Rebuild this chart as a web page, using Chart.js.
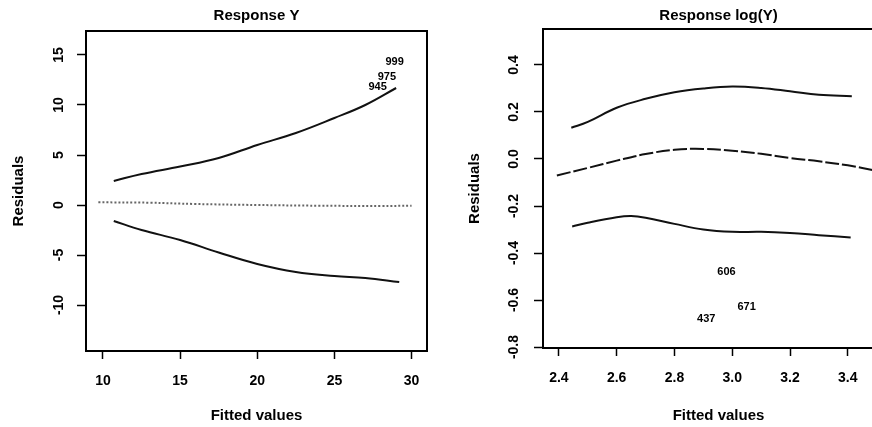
<!DOCTYPE html>
<html>
<head>
<meta charset="utf-8">
<title>Residuals vs fitted values</title>
<script src="https://cdn.jsdelivr.net/npm/chart.js@4.4.1/dist/chart.umd.min.js"></script>
<style>
  html, body { margin: 0; padding: 0; background: #fff; overflow: hidden; }
  #wrap { position: relative; width: 872px; height: 427px; overflow: hidden; }
  #leftChart { position: absolute; left: 0; top: 0; }
  #rightChart { position: absolute; left: 436px; top: 0; }
</style>
</head>
<body>
<div id="wrap">
  <canvas id="leftChart" width="436" height="427"></canvas>
  <canvas id="rightChart" width="470" height="427"></canvas>
</div>
<script>
// left panel: Response Y
const leftUpperX = [10.7, 12.5, 15, 17.5, 20, 22.5, 25, 27, 29]
const leftUpperY = [2.4, 3.1, 3.85, 4.7, 6.0, 7.2, 8.7, 10.0, 11.7]
const leftLowerX = [10.7, 12.5, 15, 17.5, 20, 22.5, 25, 27, 29.2]
const leftLowerY = [-1.6, -2.5, -3.5, -4.75, -5.9, -6.7, -7.1, -7.3, -7.7]
const leftMidX = [9.7, 13, 16, 20, 24, 28, 30]
const leftMidY = [0.27, 0.23, 0.1, 0, -0.07, -0.1, -0.07]
const leftNames = ["999", "975", "945"]
const leftNameX = [28.9, 28.4, 27.8]
const leftNameY = [14.3, 12.8, 11.8]
const leftXTicks = [10, 15, 20, 25, 30]
const leftYTicks = [-10, -5, 0, 5, 10, 15]

// right panel: Response log(Y)
const rightUpperX = [2.443, 2.5, 2.6, 2.7, 2.8, 2.9, 3.0, 3.1, 3.2, 3.3, 3.414]
const rightUpperY = [0.133, 0.158, 0.218, 0.256, 0.284, 0.300, 0.308, 0.302, 0.288, 0.273, 0.267]
const rightMidX = [2.393, 2.5, 2.6, 2.7, 2.8, 2.9, 3.0, 3.1, 3.2, 3.3, 3.4, 3.5]
const rightMidY = [-0.07, -0.038, -0.007, 0.021, 0.039, 0.043, 0.035, 0.022, 0.004, -0.01, -0.027, -0.05]
const rightLowerX = [2.446, 2.5, 2.6, 2.65, 2.7, 2.8, 2.9, 3.0, 3.1, 3.2, 3.3, 3.41]
const rightLowerY = [-0.287, -0.271, -0.248, -0.243, -0.25, -0.276, -0.30, -0.31, -0.31, -0.315, -0.324, -0.334]
const rightNames = ["606", "671", "437"]
const rightNameX = [2.98, 3.05, 2.91]
const rightNameY = [-0.48, -0.63, -0.68]
const rightXTicks = [2.4, 2.6, 2.8, 3.0, 3.2, 3.4]
const rightYTicks = [-0.8, -0.6, -0.4, -0.2, 0.0, 0.2, 0.4]

Chart.defaults.font.family = "'Liberation Sans', Arial, sans-serif"
Chart.defaults.color = "#000"

const pts = (xs, ys) => xs.map((x, i) => ({ x: x, y: ys[i] }))

const framePlugin = {
  id: "frame",
  afterDatasetsDraw(chart) {
    const { ctx, chartArea } = chart
    ctx.save()
    ctx.strokeStyle = "#000"
    ctx.lineWidth = 2
    ctx.strokeRect(chartArea.left, chartArea.top, chartArea.right - chartArea.left, chartArea.bottom - chartArea.top)
    ctx.restore()
  },
}

const namesPlugin = {
  id: "pointNames",
  afterDatasetsDraw(chart, args, opts) {
    const { ctx } = chart
    ctx.save()
    ctx.fillStyle = "#000"
    ctx.font = "bold 11px 'Liberation Sans', Arial, sans-serif"
    ctx.textAlign = "center"
    ctx.textBaseline = "middle"
    opts.names.forEach((n, i) => {
      ctx.fillText(n, chart.scales.x.getPixelForValue(opts.xs[i]), chart.scales.y.getPixelForValue(opts.ys[i]))
    })
    ctx.restore()
  },
}

function lineSet(data, dash, color) {
  return {
    data: data,
    showLine: true,
    borderColor: color || "#111",
    borderWidth: 2,
    borderDash: dash || [],
    pointRadius: 0,
    tension: 0.4,
  }
}

function makeConfig(p) {
  return {
    type: "scatter",
    data: { datasets: p.datasets },
    plugins: [framePlugin, namesPlugin],
    options: {
      responsive: false,
      animation: false,
      layout: { padding: { right: p.padRight } },
      plugins: {
        legend: { display: false },
        tooltip: { enabled: false },
        title: {
          display: true,
          text: p.title,
          fullSize: false,
          font: { size: 15, weight: "bold" },
          color: "#000",
          padding: { top: 7, bottom: p.titleBottom },
        },
        pointNames: { names: p.names, xs: p.nameX, ys: p.nameY },
      },
      scales: {
        x: {
          type: "linear",
          min: p.xMin,
          max: p.xMax,
          afterBuildTicks: (axis) => { axis.ticks = p.xTicks.map((v) => ({ value: v })) },
          afterFit: (axis) => { axis.height = p.xHeight },
          grid: { drawOnChartArea: false, tickLength: 8, tickColor: "#000", tickWidth: 1.5 },
          border: { display: false },
          ticks: { font: { size: 14, weight: "bold" }, padding: 14, maxRotation: 0, callback: p.fmt },
          title: { display: true, text: "Fitted values", font: { size: 15, weight: "bold" }, padding: { bottom: 2 } },
        },
        y: {
          type: "linear",
          min: p.yMin,
          max: p.yMax,
          afterBuildTicks: (axis) => { axis.ticks = p.yTicks.map((v) => ({ value: v })) },
          afterFit: (axis) => { axis.width = p.yWidth },
          grid: { drawOnChartArea: false, tickLength: 9, tickColor: "#000", tickWidth: 1.5 },
          border: { display: false },
          ticks: { font: { size: 14, weight: "bold" }, padding: 8, minRotation: 90, maxRotation: 90, crossAlign: "center", callback: p.fmt },
          title: { display: true, text: "Residuals", font: { size: 15, weight: "bold" }, padding: { top: p.yTitlePad } },
        },
      },
    },
  }
}

const leftChart = new Chart(document.getElementById("leftChart"), makeConfig({
  title: "Response Y",
  datasets: [
    lineSet(pts(leftUpperX, leftUpperY)),
    lineSet(pts(leftLowerX, leftLowerY)),
    lineSet(pts(leftMidX, leftMidY), [2, 2], "rgba(0,0,0,0.6)"),
  ],
  names: leftNames, nameX: leftNameX, nameY: leftNameY,
  xMin: 8.9, xMax: 31.0, yMin: -14.6, yMax: 17.4,
  xTicks: leftXTicks, yTicks: leftYTicks,
  fmt: (v) => String(v),
  padRight: 9, titleBottom: 6, xHeight: 76, yWidth: 86, yTitlePad: 10,
}))

const rightChart = new Chart(document.getElementById("rightChart"), makeConfig({
  title: "Response log(Y)",
  datasets: [
    lineSet(pts(rightUpperX, rightUpperY)),
    lineSet(pts(rightMidX, rightMidY), [14, 3]),
    lineSet(pts(rightLowerX, rightLowerY)),
  ],
  names: rightNames, nameX: rightNameX, nameY: rightNameY,
  xMin: 2.345, xMax: 3.56, yMin: -0.804, yMax: 0.553,
  xTicks: rightXTicks, yTicks: rightYTicks,
  fmt: (v) => Number(v).toFixed(1),
  padRight: 12, titleBottom: 4, xHeight: 79, yWidth: 107, yTitlePad: 30,
}))
</script>
</body>
</html>
